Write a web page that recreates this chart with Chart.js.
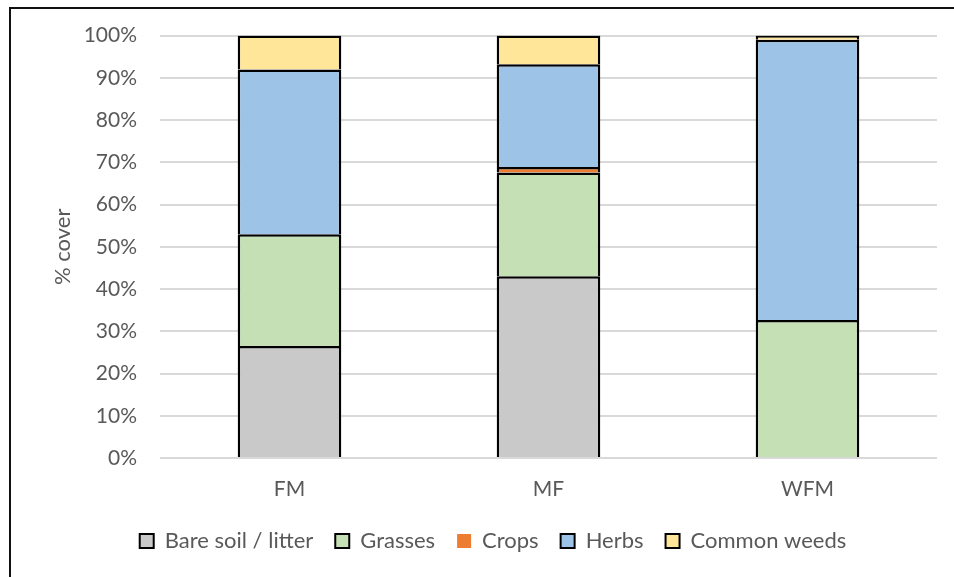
<!DOCTYPE html>
<html>
<head>
<meta charset="utf-8">
<script src="https://cdn.jsdelivr.net/npm/chart.js@4"></script>
<style>
  body { margin: 0; background: #fff; }
  #wrap { position: relative; width: 954px; height: 577px; overflow: hidden; }
  #frame { position: absolute; left: 9px; top: 7px; width: 960px; height: 600px;
           border-left: 2px solid #111; border-top: 2px solid #111; }
  canvas { position: absolute; left: 0; top: 0; }
</style>
</head>
<body>
<div id="wrap">
  <div id="frame"></div>
  <canvas id="grafico" width="954" height="577"></canvas>
</div>
<script>
const sitios = ['FM', 'MF', 'WFM'];
const sueloDesnudo = [26.5, 43.0, 0];
const pastos = [26.5, 24.6, 32.7];
const cultivos = [0, 1.3, 0];
const hierbas = [39.0, 24.3, 66.3];
const malezas = [8.0, 6.8, 1.0];

const gris = '#595959';
const familia = 'Lato, "Noto Sans", sans-serif';

function serie(label, data, color) {
    return {
        label: label,
        data: data,
        backgroundColor: color,
        borderColor: '#000',
        borderWidth: 2.5,
        barPercentage: 0.8,
        categoryPercentage: 0.5
    };
}

document.addEventListener("DOMContentLoaded", function () {
    const ctx = document.getElementById('grafico').getContext('2d');
    const grafico = new Chart(ctx, {
        type: 'bar',
        data: {
            labels: sitios,
            datasets: [
                serie('Bare soil / litter', sueloDesnudo, '#C9C9C9'),
                serie('Grasses', pastos, '#C5E0B4'),
                serie('Crops', cultivos, '#ED7D31'),
                serie('Herbs', hierbas, '#9DC3E6'),
                serie('Common weeds', malezas, '#FFE699')
            ]
        },
        options: {
            responsive: false,
            animation: false,
            layout: { padding: { left: 32, right: 0, top: 31, bottom: 15 } },
            plugins: {
                tooltip: { enabled: false },
                legend: {
                    position: 'bottom',
                    labels: {
                        color: gris,
                        font: { family: familia, size: 22 },
                        boxWidth: 14,
                        boxHeight: 14,
                        padding: 22,
                        generateLabels: function (chart) {
                            const items = Chart.defaults.plugins.legend.labels.generateLabels(chart);
                            items.forEach(function (it) {
                                it.lineWidth = it.text === 'Crops' ? 0 : 2;
                            });
                            return items;
                        }
                    }
                }
            },
            scales: {
                x: {
                    stacked: true,
                    grid: { display: false },
                    border: { display: false },
                    afterFit: function (scale) { scale.height = 50; },
                    ticks: { color: gris, font: { family: familia, size: 21 }, padding: 11 }
                },
                y: {
                    stacked: true,
                    min: 0,
                    max: 100,
                    afterFit: function (scale) { scale.width = 128; },
                    grid: { color: '#D9D9D9', lineWidth: 2, drawTicks: false },
                    border: { display: false },
                    ticks: {
                        stepSize: 10,
                        color: gris,
                        font: { family: familia, size: 21 },
                        padding: 23,
                        callback: function (v) { return v + '%'; }
                    },
                    title: {
                        display: true,
                        text: '% cover',
                        color: gris,
                        font: { family: familia, size: 22 },
                        padding: { top: 18, bottom: 0 }
                    }
                },
                // empty right-hand margin so the legend stays centred on the frame
                derecha: {
                    position: 'right',
                    display: true,
                    grid: { display: false },
                    border: { display: false },
                    ticks: { display: false },
                    afterFit: function (scale) { scale.width = 17; }
                }
            }
        }
    });
});
</script>
</body>
</html>
